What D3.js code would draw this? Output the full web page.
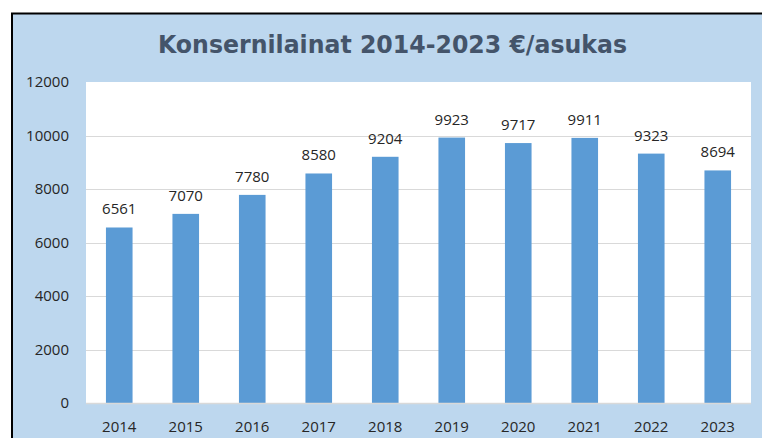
<!DOCTYPE html>
<html>
<head>
<meta charset="utf-8">
<script src="https://cdn.jsdelivr.net/npm/d3@7"></script>
<style>
  html, body { margin: 0; padding: 0; background: #ffffff; }
  svg { display: block; }
</style>
</head>
<body>
<svg id="chart" width="763" height="438"></svg>
<script>
const years = ["2014","2015","2016","2017","2018","2019","2020","2021","2022","2023"];
const values = [6561, 7070, 7780, 8580, 9204, 9923, 9717, 9911, 9323, 8694];
const yTicks = [0, 2000, 4000, 6000, 8000, 10000, 12000];
const title = "Konsernilainat 2014-2023 €/asukas";

const svg = d3.select("#chart");
const W = 763, H = 438;
const plot = {left: 86, right: 751, top: 82, bottom: 403};
const labelFont = "'Open Sans', sans-serif";
const labelSize = 15;

// outer chart frame
svg.append("rect")
  .attr("x", 12).attr("y", 13.5)
  .attr("width", 750).attr("height", H)
  .attr("fill", "#BDD7EE");
svg.append("path")
  .attr("d", `M12,${H} L12,13.5 L762,13.5`)
  .attr("fill", "none")
  .attr("stroke", "#000").attr("stroke-width", 2);

// plot area
svg.append("rect")
  .attr("x", plot.left).attr("y", plot.top)
  .attr("width", plot.right - plot.left).attr("height", plot.bottom - plot.top)
  .attr("fill", "#ffffff");

const x = d3.scaleBand().domain(years)
  .range([plot.left, plot.right]).paddingInner(0.6).paddingOuter(0.3);
const y = d3.scaleLinear().domain([0, 12000]).range([plot.bottom, plot.top]);

// gridlines
svg.append("g").selectAll("line").data(yTicks.filter(d => d > 0 && d < 12000)).join("line")
  .attr("x1", plot.left).attr("x2", plot.right)
  .attr("y1", d => Math.round(y(d)) + 0.5).attr("y2", d => Math.round(y(d)) + 0.5)
  .attr("stroke", "#D9D9D9").attr("stroke-width", 1);

// y axis labels
const yAxis = d3.axisLeft(y).tickValues(yTicks).tickSize(0).tickPadding(17).tickFormat(d3.format("d"));
const gy = svg.append("g").attr("transform", `translate(${plot.left},0)`).call(yAxis);
gy.select(".domain").remove();
gy.selectAll("text")
  .attr("font-family", labelFont)
  .attr("font-size", labelSize).attr("fill", "#262626");

// bars
svg.append("g").selectAll("rect").data(values).join("rect")
  .attr("x", (d, i) => x(years[i]))
  .attr("y", d => y(d))
  .attr("width", x.bandwidth())
  .attr("height", d => y(0) - y(d))
  .attr("fill", "#5B9BD5");

// baseline
svg.append("line")
  .attr("x1", plot.left).attr("x2", plot.right)
  .attr("y1", plot.bottom + 0.5).attr("y2", plot.bottom + 0.5)
  .attr("stroke", "#D9D9D9").attr("stroke-width", 1.5);

// data labels
svg.append("g").selectAll("text").data(values).join("text")
  .attr("x", (d, i) => x(years[i]) + x.bandwidth() / 2)
  .attr("y", d => y(d) - 13)
  .attr("text-anchor", "middle")
  .attr("font-family", labelFont)
  .attr("font-size", labelSize).attr("fill", "#262626")
  .text(d => d);

// x axis labels
const xAxis = d3.axisBottom(x).tickSize(0).tickPadding(18);
const gx = svg.append("g").attr("transform", `translate(0,${plot.bottom})`).call(xAxis);
gx.select(".domain").remove();
gx.selectAll("text")
  .attr("font-family", labelFont)
  .attr("font-size", labelSize).attr("fill", "#262626");

// title
svg.append("text")
  .attr("x", (158 + 627) / 2).attr("y", 53)
  .attr("text-anchor", "middle")
  .attr("font-family", "'DejaVu Sans Condensed', 'DejaVu Sans', sans-serif")
  .attr("font-weight", "bold")
  .attr("font-size", 24)
  .attr("fill", "#44546A")
  .attr("textLength", 469).attr("lengthAdjust", "spacingAndGlyphs")
  .text(title);
</script>
</body>
</html>
